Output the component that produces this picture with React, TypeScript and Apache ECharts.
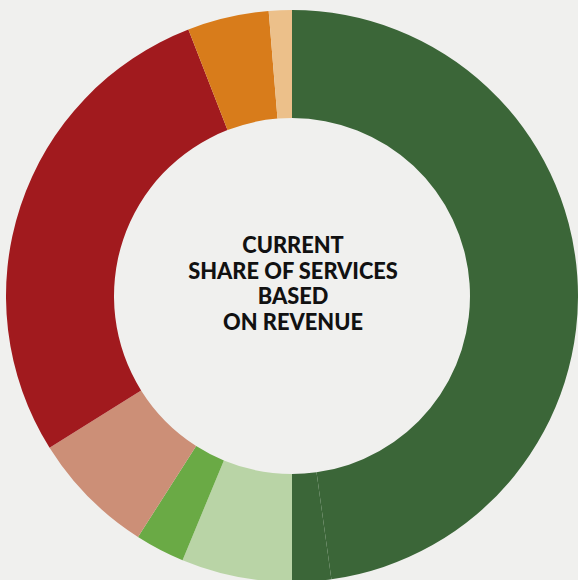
import React, { useEffect, useRef } from "react";
import * as echarts from "echarts";

const categories = [
  "Service A",
  "Service B",
  "Service C",
  "Service D",
  "Service E",
  "Service F",
  "Service G",
  "Service H",
];
const values = [47.8, 2.2, 6.25, 2.8, 7.05, 28.0, 4.6, 1.3];
const colors = [
  "#3b6638",
  "#3b6638",
  "#b9d4a6",
  "#6aaa45",
  "#cc8f77",
  "#a11a1e",
  "#d87c1b",
  "#ecc08a",
];
const titleLines = ["CURRENT", "SHARE OF SERVICES", "BASED", "ON REVENUE"];

export default function App() {
  const ref = useRef<HTMLDivElement>(null);
  useEffect(() => {
    if (!ref.current) return;
    const chart = echarts.init(ref.current, null, { renderer: "svg" });
    chart.setOption({
      animation: false,
      backgroundColor: "#f0f0ee",
      graphic: [
        {
          type: "text",
          x: 293,
          y: 283,
          style: {
            text: titleLines.join("\n"),
            align: "center",
            verticalAlign: "middle",
            fill: "#111",
            font: "900 21.8px Lato, 'Open Sans', sans-serif",
            lineHeight: 25.7,
          },
        },
      ],
      series: [
        {
          type: "pie",
          center: [292, 296],
          radius: [178, 286],
          startAngle: 90,
          clockwise: true,
          label: { show: false },
          labelLine: { show: false },
          emphasis: { disabled: true },
          itemStyle: { borderWidth: 0 },
          data: categories.map((c, i) => ({
            name: c,
            value: values[i],
            itemStyle: { color: colors[i] },
          })),
        },
      ],
    });
    return () => chart.dispose();
  }, []);
  return (
    <div
      ref={ref}
      style={{ position: "fixed", left: 0, top: 0, width: 578, height: 580 }}
    />
  );
}
